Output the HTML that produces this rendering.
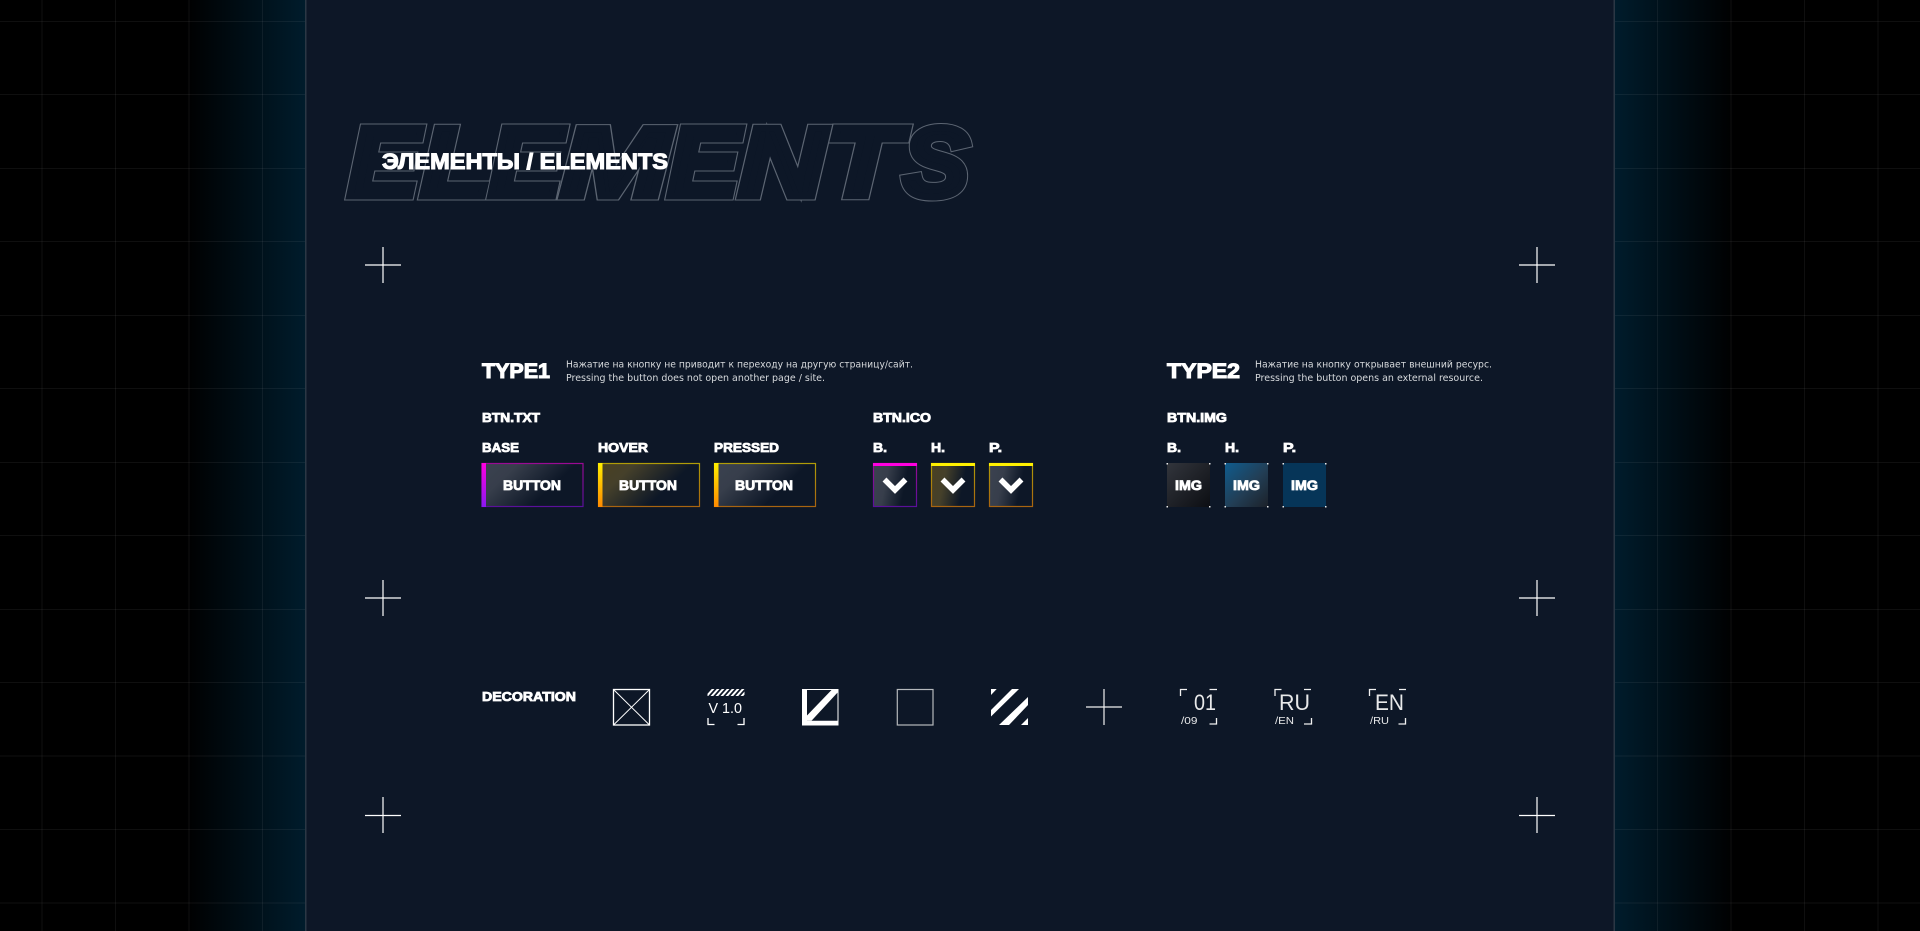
<!DOCTYPE html>
<html><head><meta charset="utf-8"><style>
html,body{margin:0;padding:0;width:1920px;height:931px;overflow:hidden;background:#000}
svg{display:block;position:absolute;left:0;top:0}
text{font-family:"Liberation Sans","Noto Sans CJK SC",sans-serif;fill:#fff}
.b{font-weight:bold;stroke:#fff;stroke-width:.8px}
.d{font-family:"DejaVu Sans","Liberation Sans",sans-serif;font-size:10px;fill:#d6d9dc}
.r{font-weight:normal;fill:#e8e9ea}
.o{fill:#5c6572;stroke:#5c6572;stroke-width:9px}
.f{fill:#0d1727;stroke:#0d1727;stroke-width:7px}
</style></head><body>
<svg width="1920" height="931" viewBox="0 0 1920 931" xmlns="http://www.w3.org/2000/svg">
<defs>
<linearGradient id="gl" x1="0" x2="1" y1="0" y2="0"><stop offset="0" stop-color="#000"/><stop offset="1" stop-color="#001c2c"/></linearGradient>
<linearGradient id="gr" x1="1" x2="0" y1="0" y2="0"><stop offset="0" stop-color="#000"/><stop offset="1" stop-color="#001c2c"/></linearGradient>
<linearGradient id="fB" x1="0" y1="0" x2="1" y2=".45"><stop offset="0" stop-color="#3b4250"/><stop offset=".3" stop-color="#373e4b"/><stop offset=".78" stop-color="#0d1727"/></linearGradient>
<linearGradient id="fH" x1="0" y1="0" x2="1" y2=".45"><stop offset="0" stop-color="#4a4122"/><stop offset=".3" stop-color="#45402a"/><stop offset=".78" stop-color="#0d1727"/></linearGradient>
<linearGradient id="fIB" x1="0" y1="0" x2="1" y2=".2"><stop offset="0" stop-color="#3b4250"/><stop offset=".35" stop-color="#373e4b"/><stop offset=".8" stop-color="#0d1727"/></linearGradient>
<linearGradient id="fIH" x1="0" y1="0" x2="1" y2=".2"><stop offset="0" stop-color="#4a4122"/><stop offset=".35" stop-color="#45402a"/><stop offset=".8" stop-color="#0d1727"/></linearGradient>
<linearGradient id="bM" x1="0" y1="0" x2="0" y2="1"><stop offset="0" stop-color="#9a0a94"/><stop offset="1" stop-color="#5a109a"/></linearGradient>
<linearGradient id="bY" x1="0" y1="0" x2="0" y2="1"><stop offset="0" stop-color="#b09c08"/><stop offset="1" stop-color="#a86410"/></linearGradient>
<linearGradient id="lM" x1="0" y1="0" x2="0" y2="1"><stop offset="0" stop-color="#ff00e0"/><stop offset="1" stop-color="#8a18f0"/></linearGradient>
<linearGradient id="lY" x1="0" y1="0" x2="0" y2="1"><stop offset="0" stop-color="#ffef00"/><stop offset="1" stop-color="#ff8a00"/></linearGradient>
<linearGradient id="i1" x1="0" y1="0" x2="1" y2="1"><stop offset="0" stop-color="#32353c"/><stop offset="1" stop-color="#0c0e13"/></linearGradient>
<linearGradient id="i2" x1="0" y1="0" x2="1" y2="1"><stop offset="0" stop-color="#0f5c8e"/><stop offset=".55" stop-color="#223e55"/><stop offset="1" stop-color="#1c2129"/></linearGradient>
<clipPath id="vc"><rect x="707.500" y="689" width="37" height="7"/></clipPath>
</defs>

<!-- backgrounds -->
<rect width="1920" height="931" fill="#000"/>
<rect x="185" y="0" width="121" height="931" fill="url(#gl)"/>
<rect x="1614" y="0" width="121" height="931" fill="url(#gr)"/>
<g stroke="#fff" stroke-opacity=".06" stroke-width="1">
<path d="M42 0V931M115.500 0V931M189 0V931M262.500 0V931M1657.500 0V931M1731 0V931M1804.500 0V931M1878 0V931"/>
<path d="M0 21.500H306M0 94.500H306M0 168.500H306M0 241.500H306M0 315.500H306M0 388.500H306M0 462.500H306M0 535.500H306M0 609.500H306M0 682.500H306M0 756H306M0 829.500H306M0 903H306"/>
<path d="M1614 21.500H1920M1614 94.500H1920M1614 168.500H1920M1614 241.500H1920M1614 315.500H1920M1614 388.500H1920M1614 462.500H1920M1614 535.500H1920M1614 609.500H1920M1614 682.500H1920M1614 756H1920M1614 829.500H1920M1614 903H1920"/>
</g>
<rect x="306" y="0" width="1308" height="931" fill="#0d1727"/>
<rect x="305" y="0" width="1.500" height="931" fill="#2a3744"/>
<rect x="1613.500" y="0" width="1.500" height="931" fill="#2a3744"/>

<!-- big outline title -->
<g font-size="98" font-weight="bold" font-style="italic" stroke-linejoin="miter" stroke-miterlimit="6">
<g>
<text class="o" x="348" y="196" textLength="71" lengthAdjust="spacingAndGlyphs">E</text>
<text class="o" x="421" y="196" textLength="70" lengthAdjust="spacingAndGlyphs">L</text>
<text class="o" x="489" y="196" textLength="73" lengthAdjust="spacingAndGlyphs">E</text>
<text class="o" x="561" y="196" textLength="108" lengthAdjust="spacingAndGlyphs">M</text>
<text class="o" x="668" y="196" textLength="71" lengthAdjust="spacingAndGlyphs">E</text>
<text class="o" x="739" y="196" textLength="86" lengthAdjust="spacingAndGlyphs">N</text>
<text class="o" x="826" y="196" textLength="73" lengthAdjust="spacingAndGlyphs">T</text>
<text class="o" x="903" y="196" textLength="66" lengthAdjust="spacingAndGlyphs">S</text>
</g>
<g>
<text class="f" x="348" y="196" textLength="71" lengthAdjust="spacingAndGlyphs">E</text>
<text class="f" x="421" y="196" textLength="70" lengthAdjust="spacingAndGlyphs">L</text>
<text class="f" x="489" y="196" textLength="73" lengthAdjust="spacingAndGlyphs">E</text>
<text class="f" x="561" y="196" textLength="108" lengthAdjust="spacingAndGlyphs">M</text>
<text class="f" x="668" y="196" textLength="71" lengthAdjust="spacingAndGlyphs">E</text>
<text class="f" x="739" y="196" textLength="86" lengthAdjust="spacingAndGlyphs">N</text>
<text class="f" x="826" y="196" textLength="73" lengthAdjust="spacingAndGlyphs">T</text>
<text class="f" x="903" y="196" textLength="66" lengthAdjust="spacingAndGlyphs">S</text>
</g>
</g>
<text class="b" x="382" y="169" font-size="22" textLength="286" lengthAdjust="spacingAndGlyphs" style="stroke-width:1.100px">ЭЛЕМЕНТЫ / ELEMENTS</text>

<!-- crosses -->
<g stroke="#fff" stroke-width="1.200" fill="none">
<path d="M365 265H401M383 247V283"/>
<path d="M365 598H401M383 580V616"/>
<path d="M365 815.500H401M383 797V833"/>
<path d="M1519 265H1555M1537 247V283"/>
<path d="M1519 598H1555M1537 580V616"/>
<path d="M1519 815.500H1555M1537 797V833"/>
<path d="M1086 707H1122M1104 689V725" stroke="#f0f0f0"/>
</g>

<!-- type headers -->
<text class="b" x="482" y="378" font-size="21" textLength="68" lengthAdjust="spacingAndGlyphs" style="stroke-width:1.100px">TYPE1</text>
<text class="d" x="566" y="367.500" textLength="347" lengthAdjust="spacingAndGlyphs">Нажатие на кнопку не приводит к переходу на другую страницу/сайт.</text>
<text class="d" x="566" y="381" textLength="259" lengthAdjust="spacingAndGlyphs">Pressing the button does not open another page / site.</text>
<text class="b" x="1167" y="378" font-size="21" textLength="73" lengthAdjust="spacingAndGlyphs" style="stroke-width:1.100px">TYPE2</text>
<text class="d" x="1255" y="367.500" textLength="237" lengthAdjust="spacingAndGlyphs">Нажатие на кнопку открывает внешний ресурс.</text>
<text class="d" x="1255" y="381" textLength="228" lengthAdjust="spacingAndGlyphs">Pressing the button opens an external resource.</text>

<!-- labels -->
<g font-size="13">
<text class="b" x="482" y="422" textLength="58" lengthAdjust="spacingAndGlyphs">BTN.TXT</text>
<text class="b" x="873" y="422" textLength="58" lengthAdjust="spacingAndGlyphs">BTN.ICO</text>
<text class="b" x="1167" y="422" textLength="60" lengthAdjust="spacingAndGlyphs">BTN.IMG</text>
<text class="b" x="482" y="452" textLength="37" lengthAdjust="spacingAndGlyphs">BASE</text>
<text class="b" x="598" y="452" textLength="50" lengthAdjust="spacingAndGlyphs">HOVER</text>
<text class="b" x="714" y="452" textLength="65" lengthAdjust="spacingAndGlyphs">PRESSED</text>
<text class="b" x="873" y="452" textLength="14" lengthAdjust="spacingAndGlyphs">B.</text>
<text class="b" x="931" y="452" textLength="14" lengthAdjust="spacingAndGlyphs">H.</text>
<text class="b" x="989" y="452" textLength="13" lengthAdjust="spacingAndGlyphs">P.</text>
<text class="b" x="1167" y="452" textLength="14" lengthAdjust="spacingAndGlyphs">B.</text>
<text class="b" x="1225" y="452" textLength="14" lengthAdjust="spacingAndGlyphs">H.</text>
<text class="b" x="1283" y="452" textLength="13" lengthAdjust="spacingAndGlyphs">P.</text>
<text class="b" x="482" y="701" textLength="94" lengthAdjust="spacingAndGlyphs">DECORATION</text>
</g>

<!-- text buttons -->
<rect x="482" y="463.500" width="101" height="43" fill="url(#fB)" stroke="url(#bM)" stroke-width="1.200"/>
<rect x="481.500" y="463" width="4.500" height="44" fill="url(#lM)"/>
<text class="b" x="503" y="490" font-size="13.500" textLength="58" lengthAdjust="spacingAndGlyphs">BUTTON</text>

<rect x="598.500" y="463.500" width="101" height="43" fill="url(#fH)" stroke="url(#bY)" stroke-width="1.200"/>
<rect x="598" y="463" width="4.500" height="44" fill="url(#lY)"/>
<text class="b" x="619" y="490" font-size="13.500" textLength="58" lengthAdjust="spacingAndGlyphs">BUTTON</text>

<rect x="714.500" y="463.500" width="101" height="43" fill="url(#fB)" stroke="url(#bY)" stroke-width="1.200"/>
<rect x="714" y="463" width="4.500" height="44" fill="url(#lY)"/>
<text class="b" x="735" y="490" font-size="13.500" textLength="58" lengthAdjust="spacingAndGlyphs">BUTTON</text>

<!-- icon buttons -->
<rect x="873.500" y="463.500" width="43" height="43" fill="url(#fIB)" stroke="url(#bM)" stroke-width="1.200"/>
<rect x="873" y="463" width="44" height="3" fill="#ff00e0"/>
<rect x="931.500" y="463.500" width="43" height="43" fill="url(#fIH)" stroke="url(#bY)" stroke-width="1.200"/>
<rect x="931" y="463" width="44" height="3" fill="#fff000"/>
<rect x="989.500" y="463.500" width="43" height="43" fill="url(#fIB)" stroke="url(#bY)" stroke-width="1.200"/>
<rect x="989" y="463" width="44" height="3" fill="#fff000"/>
<g fill="none" stroke="#fff" stroke-width="5.500" stroke-linejoin="miter">
<path d="M884.500 479.500L895 490L905.500 479.500"/>
<path d="M942.500 479.500L953 490L963.500 479.500"/>
<path d="M1000.500 479.500L1011 490L1021.500 479.500"/>
</g>

<!-- image buttons -->
<rect x="1167" y="463" width="43" height="44" fill="url(#i1)"/>
<rect x="1225" y="463" width="43" height="44" fill="url(#i2)"/>
<rect x="1283" y="463" width="43" height="44" fill="#063558"/>
<g fill="#e8e8e8">
<rect x="1166.500" y="463" width="1.500" height="1.500"/><rect x="1209" y="463" width="1.500" height="1.500"/><rect x="1166.500" y="506" width="1.500" height="1.500"/><rect x="1209" y="506" width="1.500" height="1.500"/>
<rect x="1224.500" y="463" width="1.500" height="1.500"/><rect x="1267" y="463" width="1.500" height="1.500"/><rect x="1224.500" y="506" width="1.500" height="1.500"/><rect x="1267" y="506" width="1.500" height="1.500"/>
<rect x="1282.500" y="463" width="1.500" height="1.500"/><rect x="1325" y="463" width="1.500" height="1.500"/><rect x="1282.500" y="506" width="1.500" height="1.500"/><rect x="1325" y="506" width="1.500" height="1.500"/>
</g>
<text class="b" x="1175" y="490" font-size="13.500" textLength="27" lengthAdjust="spacingAndGlyphs">IMG</text>
<text class="b" x="1233" y="490" font-size="13.500" textLength="27" lengthAdjust="spacingAndGlyphs">IMG</text>
<text class="b" x="1291" y="490" font-size="13.500" textLength="27" lengthAdjust="spacingAndGlyphs">IMG</text>

<!-- decorations -->
<g fill="none" stroke="#fff">
<rect x="613.500" y="689.500" width="36" height="35.500" stroke-width="1.300"/>
<path d="M613.500 689.500L649.500 725M649.500 689.500L613.500 725" stroke-width="1"/>
<g clip-path="url(#vc)" stroke-width="2"><path d="M706 697L714 688M711 697L719 688M716 697L724 688M721 697L729 688M726 697L734 688M731 697L739 688M736 697L744 688M741 697L749 688"/></g>
<path d="M708 718V724.500H714.500M744 718V724.500H737.500" stroke-width="1.300"/>
<rect x="802.500" y="689.500" width="35.500" height="35.500" stroke-width="1"/>
<rect x="897.300" y="689.500" width="35.700" height="35.500" stroke="#b5b8bc" stroke-width="1.200"/>
</g>
<text class="r" x="708.500" y="713" font-size="15" textLength="33.500" lengthAdjust="spacingAndGlyphs" style="fill:#fff">V 1.0</text>
<path fill="#fff" d="M802 689H807V720.700H838.500V725H802Z"/>
<path fill="#fff" d="M832 689.500H838.500V691.500L811.500 720.700H807V715.500Z"/>
<g fill="#fff">
<path d="M991 689H996.700L991 695Z"/>
<path d="M1012 689H1019L991 716.500V710Z"/>
<path d="M1028 697V705L1009 725H999Z"/>
<path d="M1028 718V725H1021Z"/>
</g>

<!-- locale marks -->
<g fill="none" stroke="#f0f0f0" stroke-width="1.300">
<path d="M1180.500 696V689.500H1187M1209.500 689.500H1217M1209.500 724H1216.500V718"/>
<path d="M1275 696V689.500H1281.500M1304 689.500H1311M1304 724H1311.500V718"/>
<path d="M1369.500 696V689.500H1376M1399 689.500H1406M1398.500 724H1405.500V718"/>
</g>
<text class="r" x="1194" y="710" font-size="22" textLength="22" lengthAdjust="spacingAndGlyphs">01</text>
<text class="r" x="1279" y="710" font-size="22" textLength="31" lengthAdjust="spacingAndGlyphs">RU</text>
<text class="r" x="1375" y="710" font-size="22" textLength="29" lengthAdjust="spacingAndGlyphs">EN</text>
<text class="r" x="1181" y="724" font-size="10.500" textLength="16.500" lengthAdjust="spacingAndGlyphs">/09</text>
<text class="r" x="1275" y="724" font-size="10.500" textLength="19" lengthAdjust="spacingAndGlyphs">/EN</text>
<text class="r" x="1370" y="724" font-size="10.500" textLength="19" lengthAdjust="spacingAndGlyphs">/RU</text>
</svg>
</body></html>
